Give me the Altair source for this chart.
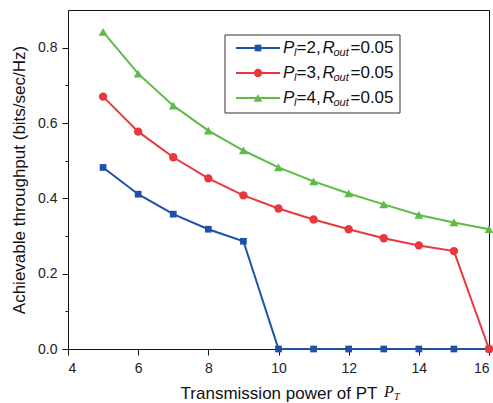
import altair as alt
import pandas as pd

x_vals = [5, 6, 7, 8, 9, 10, 11, 12, 13, 14, 15, 16]
blue_vals = [0.482, 0.411, 0.358, 0.318, 0.286, 0, 0, 0, 0, 0, 0, 0]
red_vals = [0.670, 0.577, 0.509, 0.453, 0.408, 0.373, 0.344, 0.318, 0.294, 0.275, 0.260, 0]
green_vals = [0.842, 0.731, 0.646, 0.580, 0.527, 0.482, 0.445, 0.413, 0.384, 0.356, 0.336, 0.318]
series_names = ["Pl=2", "Pl=3", "Pl=4"]
colors = ["#1f4fa8", "#e8383d", "#5dbb46"]
shapes = ["square", "circle", "triangle-up"]
sizes = [45, 70, 80]

rows = []
for name, vals in zip(series_names, [blue_vals, red_vals, green_vals]):
    for xv, yv in zip(x_vals, vals):
        rows.append({"x": xv, "y": yv, "s": name})
df = pd.DataFrame(rows)

W, H = 421, 339
xscale = alt.Scale(domain=[4, 16], nice=False, zero=False)
yscale = alt.Scale(domain=[0, 0.9], nice=False)

tick_cond_x = {"condition": {"test": "datum.value % 2 == 1", "value": 3}, "value": 6}
tick_cond_y = {"condition": {"test": "round(datum.value*10) % 2 == 1", "value": 3}, "value": 6}

xaxis = alt.Axis(values=list(range(4, 17)), labelExpr="datum.value % 2 == 0 ? datum.label : ''",
                 tickSize=tick_cond_x, title="Transmission power of PT", grid=False,
                 labelFontSize=14, titleFontSize=17, titleFontWeight="normal",
                 labelColor="#222", titleColor="#111", domainColor="#111", tickColor="#111",
                 labelPadding=6, titlePadding=10, labelFont="Liberation Sans", titleFont="Liberation Sans")
yaxis = alt.Axis(values=[0, 0.1, 0.2, 0.3, 0.4, 0.5, 0.6, 0.7, 0.8],
                 labelExpr="round(datum.value*10) % 2 == 0 ? format(datum.value, '.1f') : ''",
                 tickSize=tick_cond_y, title="Achievable throughput (bits/sec/Hz)", grid=False,
                 labelFontSize=14, titleFontSize=17, titleFontWeight="normal",
                 labelColor="#222", titleColor="#111", domainColor="#111", tickColor="#111",
                 labelPadding=5, titlePadding=9, labelFont="Liberation Sans", titleFont="Liberation Sans")

layers = []
for name, c, sh, sz in zip(series_names, colors, shapes, sizes):
    d = df[df.s == name]
    base = alt.Chart(d)
    layers.append(base.mark_line(color=c, strokeWidth=2).encode(
        x=alt.X("x:Q", scale=xscale, axis=xaxis),
        y=alt.Y("y:Q", scale=yscale, axis=yaxis)))
    layers.append(base.mark_point(color=c, filled=True, opacity=1, shape=sh, size=sz).encode(
        x=alt.X("x:Q", scale=xscale), y=alt.Y("y:Q", scale=yscale)))

# legend box
legend_rows_y = [48 - 10, 73 - 10, 98 - 10]
leg_df = pd.DataFrame({"k": [0]})
lg = alt.Chart(leg_df)
layers.append(lg.mark_rect(fill="white", stroke="#333", strokeWidth=1).encode(
    x=alt.value(225 - 68), x2=alt.value(400 - 68), y=alt.value(35 - 10), y2=alt.value(113 - 10)))
num_labels = ["=2,", "=3,", "=4,"]
for ly, c, sh, sz, nl in zip(legend_rows_y, colors, shapes, sizes, num_labels):
    layers.append(lg.mark_rule(color=c, strokeWidth=2).encode(
        x=alt.value(236 - 68), x2=alt.value(280 - 68), y=alt.value(ly)))
    layers.append(lg.mark_point(color=c, filled=True, opacity=1, shape=sh, size=sz).encode(
        x=alt.value(258 - 68), y=alt.value(ly)))
    tx = 283 - 68
    pieces = [("P", 17, "italic", 0), ("l", 11, "italic", 5), (nl, 17, "normal", 0),
              ("R", 17, "italic", 0), ("out", 11, "italic", 5), ("=0.05", 17, "normal", 0)]
    offs = [0, 11, 13.5, 39.5, 50.5, 67.5]
    for (t, fs, st, dy), o in zip(pieces, offs):
        layers.append(lg.mark_text(text=t, fontSize=fs, fontStyle=st, align="left", baseline="middle",
                                   font="Liberation Sans", color="#111").encode(
            x=alt.value(tx + o), y=alt.value(ly + dy)))

# P_T in x title
layers.append(lg.mark_text(text="P", fontSize=16, fontStyle="italic", font="Liberation Serif",
                           align="left", baseline="alphabetic", color="#111").encode(
    x=alt.value(384 - 68), y=alt.value(397 - 10)))
layers.append(lg.mark_text(text="T", fontSize=10, fontStyle="italic", font="Liberation Serif",
                           align="left", baseline="alphabetic", color="#111").encode(
    x=alt.value(394 - 68), y=alt.value(400 - 10)))

chart = alt.layer(*layers).properties(
    width=W, height=H,
    autosize=alt.AutoSizeParams(type="none"),
    padding={"left": 68, "top": 10, "right": 4, "bottom": 54},
    background="white",
).configure_view(stroke="#111", strokeWidth=1)

chart.save("out.html", embed_options={"renderer": "svg", "actions": False})
